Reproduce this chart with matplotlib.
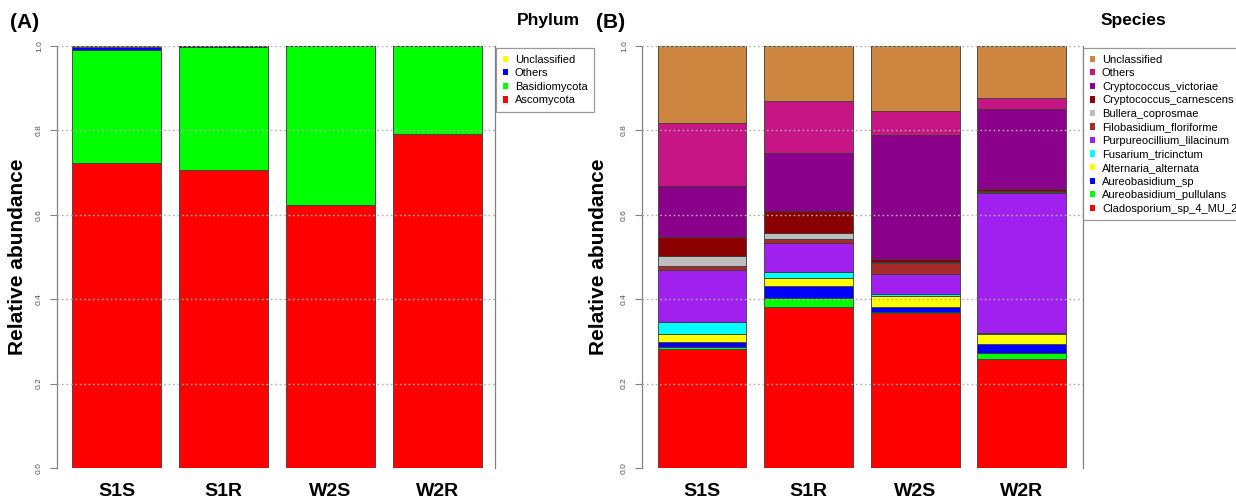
import matplotlib
matplotlib.use("Agg")
from matplotlib import pyplot as plt
from matplotlib.patches import Patch

plt.rcParams['font.family'] = ['Liberation Sans', 'DejaVu Sans']

samples = ["S1S", "S1R", "W2S", "W2R"]

# phylum level, stacked bottom -> top
phylum_names = ["Ascomycota", "Basidiomycota", "Others", "Unclassified"]
phylum_colors = ["#FF0000", "#00FF00", "#0000FF", "#FFFF00"]
ascomycota = [0.723, 0.706, 0.624, 0.792]
basidiomycota = [0.268, 0.292, 0.375, 0.207]
phylum_others = [0.007, 0.001, 0.0005, 0.0005]
phylum_unclassified = [0.002, 0.001, 0.0005, 0.0005]
phylum_values = [ascomycota, basidiomycota, phylum_others, phylum_unclassified]

# species level, stacked bottom -> top
species_names = ["Cladosporium_sp_4_MU_2012", "Aureobasidium_pullulans",
                 "Aureobasidium_sp", "Alternaria_alternata",
                 "Fusarium_tricinctum", "Purpureocillium_lilacinum",
                 "Filobasidium_floriforme", "Bullera_coprosmae",
                 "Cryptococcus_carnescens", "Cryptococcus_victoriae",
                 "Others", "Unclassified"]
species_colors = ["#FF0000", "#00FF00", "#0000FF", "#FFFF00", "#00FFFF",
                  "#A020F0", "#A52A2A", "#BEBEBE", "#8B0000", "#8B008B",
                  "#C71585", "#CD853F"]
cladosporium = [0.282, 0.381, 0.367, 0.258]
pullulans = [0.005, 0.023, 0.003, 0.014]
aureo_sp = [0.012, 0.028, 0.012, 0.021]
alternaria = [0.018, 0.018, 0.026, 0.024]
fusarium = [0.028, 0.015, 0.004, 0.003]
purpureocillium = [0.124, 0.067, 0.048, 0.332]
filobasidium = [0.010, 0.011, 0.026, 0.003]
bullera = [0.023, 0.013, 0.001, 0.001]
c_carnescens = [0.045, 0.054, 0.009, 0.005]
c_victoriae = [0.121, 0.136, 0.294, 0.189]
species_others = [0.150, 0.124, 0.057, 0.027]
species_unclassified = [0.182, 0.130, 0.154, 0.123]
species_values = [cladosporium, pullulans, aureo_sp, alternaria, fusarium,
                  purpureocillium, filobasidium, bullera, c_carnescens,
                  c_victoriae, species_others, species_unclassified]

W, H = 1236, 500
fig = plt.figure(figsize=(W / 100, H / 100), dpi=100)

centers = [0.7, 1.9, 3.1, 4.3]


def panel(left, right, xlim, names, colors, values, tag, tag_x, title,
          title_x, leg_x, ylab_x):
    ax = fig.add_axes([left / W, 32 / H, (right - left) / W, 422 / H])
    bottom = [0.0] * 4
    for vals, col in zip(values, colors):
        ax.bar(centers, vals, width=1.0, bottom=bottom, color=col,
               edgecolor="#3a3a3a", linewidth=0.6, zorder=2)
        bottom = [b + v for b, v in zip(bottom, vals)]
    ax.set_xlim(*xlim)
    ax.set_ylim(0, 1)
    for yv in [0.2, 0.4, 0.6, 0.8, 1.0]:
        ax.axhline(yv, color="#b0b0b0", linestyle=(0, (1.2, 2.0)),
                   linewidth=1.0, zorder=3)
    for s in ["top", "bottom"]:
        ax.spines[s].set_visible(False)
    for s in ["left", "right"]:
        ax.spines[s].set_color("#808080")
        ax.spines[s].set_linewidth(0.9)
    ax.set_yticks([0.0, 0.2, 0.4, 0.6, 0.8, 1.0])
    ax.set_yticklabels(["0.0", "0.2", "0.4", "0.6", "0.8", "1.0"],
                       rotation=90, va="center", fontsize=6, color="#555555")
    ax.tick_params(axis="y", length=5, width=0.8, color="#808080", pad=5,
                   right=False)
    ax.set_xticks(centers)
    ax.set_xticklabels(samples, fontsize=14, fontweight="bold")
    ax.tick_params(axis="x", length=0, pad=11)
    ax.set_ylabel("Relative abundance", fontsize=15, fontweight="bold")
    # label anchor is its right edge once rotated
    ax.yaxis.set_label_coords((ylab_x + 10 - left) / (right - left), 0.5)
    fig.text(tag_x / W, 1 - 22 / H, tag, fontsize=15, fontweight="bold",
             ha="left", va="center")
    fig.text(title_x / W, 1 - 21 / H, title, fontsize=12.5, fontweight="bold",
             ha="right", va="center")
    handles = [Patch(facecolor=c, edgecolor="none") for c in colors][::-1]
    leg = fig.legend(handles, names[::-1], loc="upper left",
                     bbox_to_anchor=(leg_x / W, 1 - 48 / H), fontsize=8,
                     frameon=True, fancybox=False, edgecolor="#808080",
                     handlelength=0.5, handleheight=0.5, handletextpad=0.6,
                     labelspacing=0.32, borderpad=0.6,
                     borderaxespad=0)
    leg.get_frame().set_linewidth(0.9)
    return ax


panel(57, 495, (0.03, 4.95), phylum_names, phylum_colors, phylum_values,
      "(A)", 10, "Phylum", 580, 496, 17)
panel(642, 1083, (0.025, 4.99), species_names, species_colors, species_values,
      "(B)", 596, "Species", 1166, 1083, 598)

fig.savefig("out.png", dpi=100)
